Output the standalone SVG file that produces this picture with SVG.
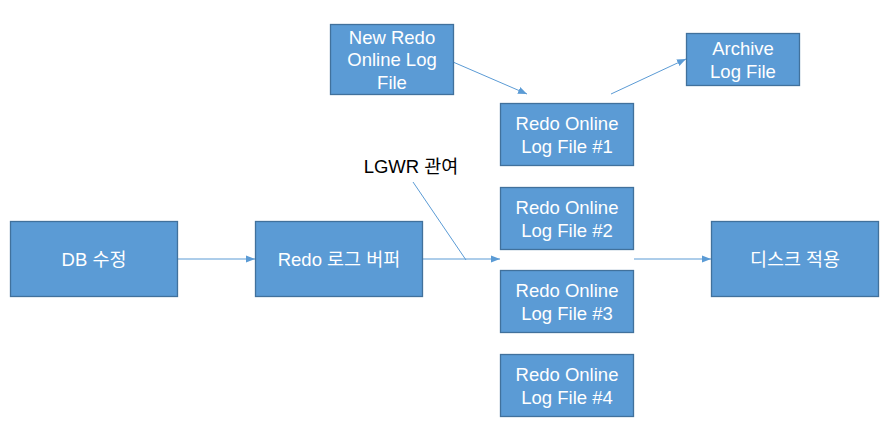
<svg xmlns="http://www.w3.org/2000/svg" width="893" height="441" viewBox="0 0 893 441">
<defs>
<style>
.box{fill:#5B9BD5;stroke:#41719C;stroke-width:1.3}
.t{fill:#fff;font-family:"Liberation Sans","Noto Sans CJK KR",sans-serif;font-size:18.5px;text-anchor:middle;dominant-baseline:central}
.lbl{fill:#000;font-family:"Liberation Sans","Noto Sans CJK KR",sans-serif;font-size:18.5px;text-anchor:middle;dominant-baseline:central}
.c{stroke:#5B9BD5;stroke-width:1;fill:none}
.a{marker-end:url(#ah)}
</style>
<marker id="ah" viewBox="0 0 10 10" refX="10" refY="5" markerWidth="9" markerHeight="9" markerUnits="userSpaceOnUse" orient="auto">
<path d="M0,1 L10,5 L0,9 z" fill="#5B9BD5"/>
</marker>
</defs>
<rect width="893" height="441" fill="#fff"/>
<g id="connectors">
<line class="c a" x1="178" y1="259" x2="255" y2="259"/>
<line class="c a" x1="423" y1="259" x2="500" y2="259"/>
<line class="c" x1="413" y1="182" x2="466" y2="260"/>
<line class="c a" x1="634" y1="259" x2="711" y2="259"/>
<line class="c a" x1="453" y1="62" x2="527" y2="94"/>
<line class="c a" x1="611" y1="94" x2="686" y2="59"/>
</g>
<g id="db">
<rect class="box" x="10.5" y="221.5" width="167" height="75"/>
<text class="t" x="94" y="259">DB 수정</text>
</g>
<g id="buffer">
<rect class="box" x="255.5" y="221.5" width="167" height="75"/>
<text class="t" x="339" y="259">Redo 로그 버퍼</text>
</g>
<g id="newlog">
<rect class="box" x="330.5" y="24.5" width="123" height="70"/>
<text class="t" x="392" y="37">New Redo</text>
<text class="t" x="392" y="59.5">Online Log</text>
<text class="t" x="392" y="82">File</text>
</g>
<g id="archive">
<rect class="box" x="686.5" y="33.5" width="113" height="52"/>
<text class="t" x="743" y="48">Archive</text>
<text class="t" x="743" y="71">Log File</text>
</g>
<g id="log1">
<rect class="box" x="500.5" y="103.5" width="133" height="62"/>
<text class="t" x="567" y="123">Redo Online</text>
<text class="t" x="567" y="146">Log File #1</text>
</g>
<g id="log2">
<rect class="box" x="500.5" y="187.5" width="133" height="62"/>
<text class="t" x="567" y="207">Redo Online</text>
<text class="t" x="567" y="230">Log File #2</text>
</g>
<g id="log3">
<rect class="box" x="500.5" y="270.5" width="133" height="62"/>
<text class="t" x="567" y="290">Redo Online</text>
<text class="t" x="567" y="313">Log File #3</text>
</g>
<g id="log4">
<rect class="box" x="500.5" y="354.5" width="133" height="62"/>
<text class="t" x="567" y="374">Redo Online</text>
<text class="t" x="567" y="397">Log File #4</text>
</g>
<g id="disk">
<rect class="box" x="711.5" y="221.5" width="167" height="75"/>
<text class="t" x="795" y="259">디스크 적용</text>
</g>
<g id="lgwr">
<text class="lbl" x="411" y="166">LGWR 관여</text>
</g>
</svg>
